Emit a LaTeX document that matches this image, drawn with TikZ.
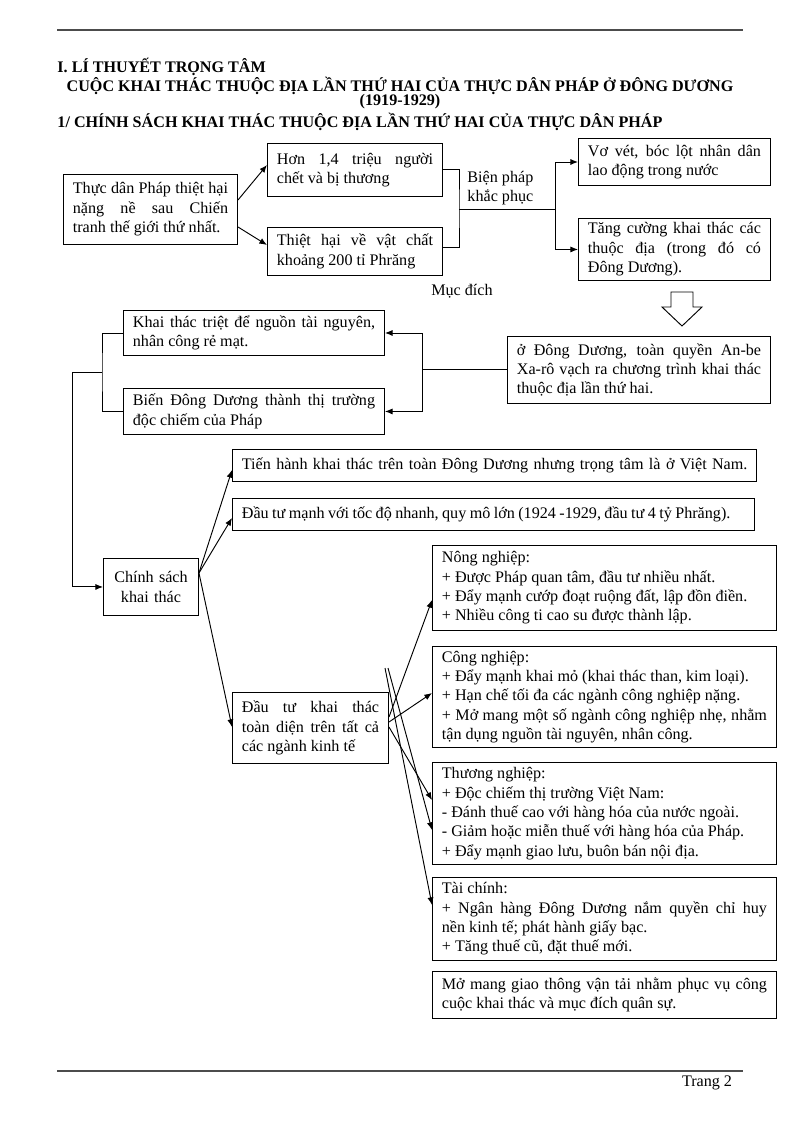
\documentclass[tikz,border=0pt]{standalone}
\usepackage{fontspec}
\setmainfont{Liberation Serif}
\usetikzlibrary{arrows.meta}
\hyphenpenalty=10000
\exhyphenpenalty=10000
\tolerance=9000

\begin{document}
\begin{tikzpicture}[x=0.744pt, y=-0.744pt, line width=0.7pt,
	every node/.style={font=\fontsize{12}{14.4}\selectfont},
	>={Latex[length=2mm, width=1.6mm]},
	box/.style={draw, anchor=north west, align=justify, inner xsep=7pt, inner ysep=2pt},
	title/.style={font=\fontsize{12}{14.4}\selectfont\bfseries, inner sep=0pt}]
	\useasboundingbox (0,0) rectangle (800,1130);
	\draw[black!70, line width=1pt] (57,30) -- (743,30);
	\draw[black!70, line width=1pt] (57,1071) -- (743,1071);
	\node[title, anchor=west] (muc) at (57,67) {I. LÍ THUYẾT TRỌNG TÂM};
	\node[title] (ten) at (400,86) {CUỘC KHAI THÁC THUỘC ĐỊA LẦN THỨ HAI CỦA THỰC DÂN PHÁP Ở ĐÔNG DƯƠNG};
	\node[title] (nam) at (400,102) {(1919-1929)};
	\node[title, anchor=west] (phan) at (57,122) {1/ CHÍNH SÁCH KHAI THÁC THUỘC ĐỊA LẦN THỨ HAI CỦA THỰC DÂN PHÁP};

	\node[box, text width=115.5pt, minimum height=52.1pt] (thiethai) at (63,174) {Thực dân Pháp thiệt hại\linebreak nặng nề sau Chiến\linebreak tranh thế giới thứ nhất.};
	\node[box, text width=116.2pt, minimum height=39.4pt] (nguoi) at (267,143) {Hơn 1,4 triệu người\linebreak chết và bị thương};
	\node[box, text width=116.2pt, minimum height=35.7pt] (vatchat) at (267,227) {Thiệt hại về vật chất\linebreak khoảng 200 tỉ Phrăng};
	\node[box, text width=128.8pt, minimum height=35pt] (vovet) at (578,138) {Vơ vét, bóc lột nhân dân\linebreak lao động trong nước};
	\node[box, text width=128.8pt, minimum height=46.1pt, inner ysep=1pt] (tangcuong) at (578,218) {Tăng cường khai thác các\linebreak thuộc địa (trong đó có\linebreak Đông Dương).};
	\node[anchor=west, align=left, inner sep=0pt] (bienphap) at (467,188) {Biện pháp\\ khắc phục};
	\node (mucdich) at (462,291) {Mục đích};
	\node[box, text width=181.7pt, minimum height=49.8pt] (sarraut) at (507,336) {ở Đông Dương, toàn quyền An-be\linebreak Xa-rô vạch ra chương trình khai thác\linebreak thuộc địa lần thứ hai.};
	\node[box, text width=180.2pt, minimum height=33.5pt] (tainguyen) at (123,310) {Khai thác triệt để nguồn tài nguyên,\linebreak nhân công rẻ mạt.};
	\node[box, text width=180.2pt, minimum height=34.2pt] (thitruong) at (123,388) {Biến Đông Dương thành thị trường\linebreak độc chiếm của Pháp};
	\node[box, align=center, text width=56.7pt, minimum height=42.4pt] (chinhsach) at (103,558) {Chính sách\\ khai thác};
	\node[box, align=left, text width=375.9pt, minimum height=23.8pt] (trongtam) at (232,449) {\makebox[375.9pt][l]{Tiến hành khai thác trên toàn Đông Dương nhưng trọng tâm là ở Việt Nam.}};
	\node[box, align=left, text width=374.4pt, minimum height=23.8pt] (dautu) at (232,498) {\spaceskip=2.55pt\makebox[374.4pt][l]{Đầu tư mạnh với tốc độ nhanh, quy mô lớn (1924 -1929, đầu tư 4 tỷ Phrăng).}};
	\node[box, text width=102.1pt, minimum height=52.8pt] (toandien) at (232,692) {Đầu tư khai thác\linebreak toàn diện trên tất cả\linebreak các ngành kinh tế};
	\node[box, text width=241.9pt, minimum height=63.2pt] (nong) at (432,545) {Nông nghiệp:\\ + Được Pháp quan tâm, đầu tư nhiều nhất.\\ + Đẩy mạnh cướp đoạt ruộng đất, lập đồn điền.\\ + Nhiều công ti cao su được thành lập.};
	\node[box, text width=241.9pt, minimum height=75.1pt] (cong) at (432,646) {Công nghiệp:\\ + Đẩy mạnh khai mỏ (khai thác than, kim loại).\\ + Hạn chế tối đa các ngành công nghiệp nặng.\\ + Mở mang một số ngành công nghiệp nhẹ, nhằm\linebreak tận dụng nguồn tài nguyên, nhân công.};
	\node[box, text width=241.9pt, minimum height=75.9pt] (thuong) at (432,762) {Thương nghiệp:\\ + Độc chiếm thị trường Việt Nam:\\ - Đánh thuế cao với hàng hóa của nước ngoài.\\ - Giảm hoặc miễn thuế với hàng hóa của Pháp.\\ + Đẩy mạnh giao lưu, buôn bán nội địa.};
	\node[box, text width=241.9pt, minimum height=61.8pt] (taichinh) at (432,877) {Tài chính:\\ + Ngân hàng Đông Dương nắm quyền chỉ huy\linebreak nền kinh tế; phát hành giấy bạc.\\ + Tăng thuế cũ, đặt thuế mới.};
	\node[box, text width=241.9pt, minimum height=35pt] (giaothong) at (432,971) {Mở mang giao thông vận tải nhằm phục vụ công\linebreak cuộc khai thác và mục đích quân sự.};
	\node[anchor=east] (trang) at (737,1083) {Trang 2};

	\draw[->] (thiethai.east |- 0,200) -- (nguoi.west |- 0,165);
	\draw[->] (thiethai.east |- 0,227) -- (vatchat.west |- 0,245);
	\coordinate (bp) at (459,209);
	\coordinate (re) at (555,209);
	\draw (nguoi.east) -| (bp) |- (vatchat.east |- 0,247);
	\draw (bp) -- (re);
	\draw[->] (re) |- (vovet.west);
	\draw[->] (re) |- (tangcuong.west);
	\draw[fill=white] (671,292) -- (693,292) -- (693,307) -- (702,307) -- (682,326) -- (662,307) -- (671,307) -- cycle;

	\coordinate (nr) at (sarraut.west -| 422,0);
	\draw (sarraut.west) -- (nr);
	\draw[->] (nr) |- (tainguyen.east);
	\draw[->] (nr) |- (thitruong.east);
	\coordinate (nl) at (102,372);
	\coordinate (ng) at (72,372);
	\draw (tainguyen.west) -| (nl) |- (thitruong.west);
	\draw[->] (nl) -- (ng) |- (chinhsach.west);

	\draw[->] (chinhsach.east |- 0,573) -- (trongtam.west |- 0,470);
	\draw[->] (chinhsach.east |- 0,573) -- (dautu.west |- 0,518);
	\draw[->] (chinhsach.east |- 0,573) -- (toandien.west |- 0,727);

	\draw[->] (toandien.east |- 0,717) -- (nong.west |- 0,600);
	\draw[->] (toandien.east |- 0,722) -- (cong.west |- 0,693);
	\draw[->] (toandien.east |- 0,727) -- (thuong.west |- 0,800);
	\coordinate (s1) at (388,668);
	\coordinate (s2) at (385,668);
	\draw[->] (s1) -- (thuong.west |- 0,830);
	\draw[->] (s2) -- (taichinh.west |- 0,905);
\end{tikzpicture}
\end{document}
